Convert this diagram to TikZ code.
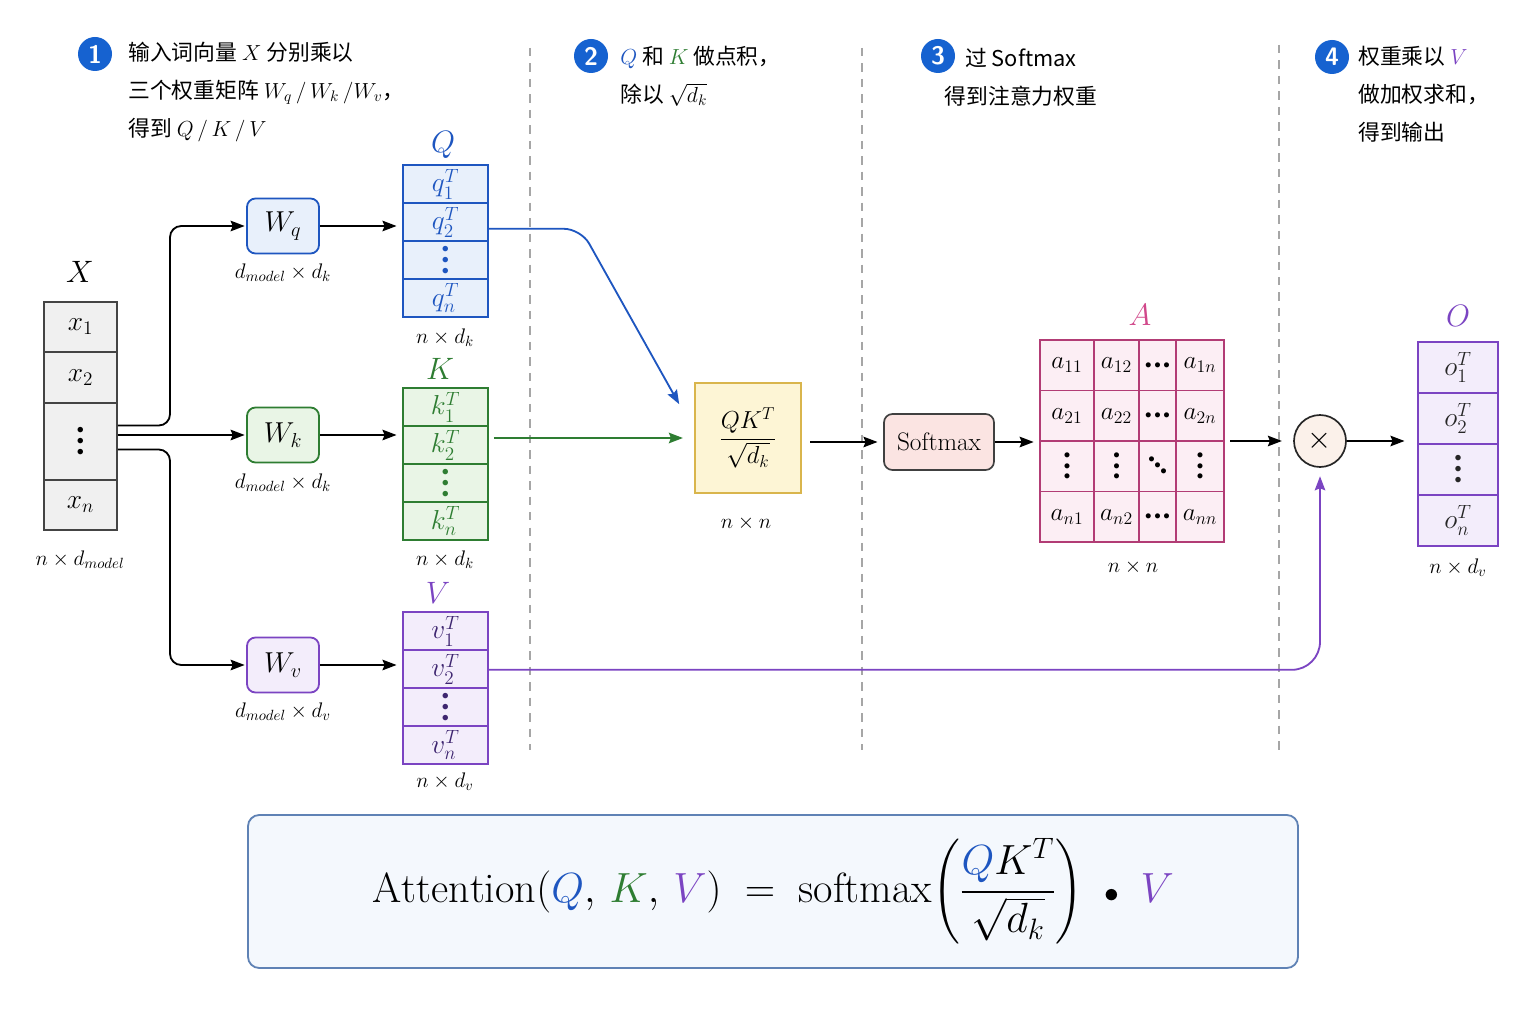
\RequirePackage{fix-cm}
\documentclass[tikz,border=0pt]{standalone}
\usepackage{amsmath}
\usepackage{fontspec}
\newfontfamily\cjk{Noto Sans CJK SC}
\usetikzlibrary{arrows.meta,calc}

\def\px{0.025cm}
\newcommand\dotglyph{\hbox{$\scriptscriptstyle\bullet$}}
\newcommand\colvdots{\vcenter{\baselineskip=0.4em\lineskiplimit=0pt\lineskip=0pt\dotglyph\dotglyph\dotglyph}}
\newcommand\rowdots{\mathinner{\dotglyph\kern0.1em\dotglyph\kern0.1em\dotglyph}}
\newcommand\diagdots{\mathinner{\raise0.55em\dotglyph\kern-0.02em\raise0.3em\dotglyph\kern-0.02em\raise0.05em\dotglyph}}

\definecolor{stepblue}{HTML}{1662D0}
\definecolor{qblue}{HTML}{1E56C0}
\definecolor{qfill}{HTML}{E8F0FB}
\definecolor{kgreen}{HTML}{2E7D32}
\definecolor{kfill}{HTML}{E9F5E6}
\definecolor{vpurple}{HTML}{7B44C2}
\definecolor{vfill}{HTML}{F3EDFB}
\definecolor{vtext}{HTML}{3E2670}
\definecolor{apink}{HTML}{D1478A}
\definecolor{afill}{HTML}{FCEEF4}
\definecolor{qkfill}{HTML}{FDF5D5}
\definecolor{qkline}{HTML}{D9B54C}
\definecolor{smfill}{HTML}{FBE4E2}
\definecolor{mulfill}{HTML}{FBF1EA}
\definecolor{xfill}{HTML}{F0F0F0}
\definecolor{xline}{HTML}{444444}
\definecolor{fmfill}{HTML}{F4F8FD}
\definecolor{fmline}{HTML}{5F82B5}

\tikzset{
  stepnum/.style={circle,fill=stepblue,text=white,minimum size=34*\px,inner sep=0pt,font=\sffamily\bfseries\fontsize{18}{18}\selectfont},
  steptext/.style={anchor=west,align=left,inner sep=0pt,font=\cjk\fontsize{15.5}{27}\selectfont},
  biglabel/.style={font=\fontsize{22}{22}\selectfont},
  dimlabel/.style={font=\fontsize{15}{15}\selectfont},
  xcell/.style={draw=xline,fill=xfill,line width=1.1pt,minimum width=73*\px,inner sep=0pt,font=\fontsize{19.5}{19.5}\selectfont},
  qcell/.style={draw=qblue,fill=qfill,text=qblue,line width=1.2pt,minimum width=85*\px,minimum height=38*\px,inner sep=0pt,font=\fontsize{19.5}{19.5}\selectfont},
  kcell/.style={qcell,draw=kgreen,fill=kfill,text=kgreen},
  vcell/.style={qcell,draw=vpurple,fill=vfill,text=vtext},
  ocell/.style={qcell,draw=vpurple,fill=vfill,text=black!85,minimum width=80*\px,minimum height=51*\px},
  acell/.style={draw=apink!85!black,fill=afill,line width=1pt,minimum height=50.5*\px,inner sep=0pt,font=\fontsize{18}{18}\selectfont},
  wbox/.style={rounded corners=6pt,line width=1.3pt,minimum width=72*\px,minimum height=55*\px,font=\fontsize{20.5}{20.5}\selectfont},
  divider/.style={draw=black!35,line width=1pt,dash pattern=on 6pt off 5pt},
  arr/.style={-{Stealth[length=10pt,width=7.5pt,inset=1.5pt]},line width=1.3pt}
}

\begin{document}
\begin{tikzpicture}[x=0.025cm,y=-0.025cm]
  \fill[white] (0,0) rectangle (1536,1024);
  \useasboundingbox (0,0) rectangle (1536,1024);

  % step captions
  \node[stepnum] (s1) at (95,54) {1};
  \node[steptext] (t1) at (128,92) {输入词向量 $X$ 分别乘以\\三个权重矩阵 $W_q\,/\,W_k\,/W_v$，\\得到 $Q\,/\,K\,/\,V$};
  \node[stepnum] (s2) at (591,56) {2};
  \node[steptext] (t2) at (620,76) {$\textcolor{qblue}{Q}$ 和 $\textcolor{kgreen}{K}$ 做点积，\\除以 $\sqrt{d_k}$};
  \node[stepnum] (s3) at (938,56) {3};
  \node[steptext,anchor=center,align=center] (t3) at (1021,77) {过 Softmax\\得到注意力权重};
  \node[stepnum] (s4) at (1332,57) {4};
  \node[steptext] (t4) at (1358,94) {权重乘以 $\textcolor{vpurple}{V}$\\做加权求和，\\得到输出};

  % dividers
  \draw[divider] (530,48) -- (530,750);
  \draw[divider] (862,48) -- (862,750);
  \draw[divider] (1279,45) -- (1279,750);

  % input X
  \node[biglabel] (xlab) at (80,272) {$X$};
  \node[xcell,minimum height=50*\px] (x1) at (80.5,327) {$x_1$};
  \node[xcell,minimum height=51*\px] (x2) at (80.5,377.5) {$x_2$};
  \node[xcell,minimum height=77*\px] (xd) at (80.5,441.5) {$\colvdots$};
  \node[xcell,minimum height=50*\px] (xn) at (80.5,505) {$x_n$};
  \node[dimlabel] (xdim) at (80,560) {$n\times d_{model}$};

  % weight matrices
  \node[wbox,draw=qblue,fill=qfill] (wq) at (283,226) {$W_q$};
  \node[dimlabel] (wqdim) at (283,273) {$d_{model}\times d_k$};
  \node[wbox,draw=kgreen,fill=kfill] (wk) at (283,435) {$W_k$};
  \node[dimlabel] (wkdim) at (283,483) {$d_{model}\times d_k$};
  \node[wbox,draw=vpurple,fill=vfill] (wv) at (283,665) {$W_v$};
  \node[dimlabel] (wvdim) at (283,712) {$d_{model}\times d_v$};

  % Q, K, V
  \node[biglabel,text=qblue] (qlab) at (443,145) {$Q$};
  \node[qcell] (q1) at (445.5,184) {$q_1^T$};
  \node[qcell] (q2) at (445.5,222) {$q_2^T$};
  \node[qcell] (qd) at (445.5,260) {$\colvdots$};
  \node[qcell] (qn) at (445.5,298) {$q_n^T$};
  \node[dimlabel] (qdim) at (445,338) {$n\times d_k$};

  \node[biglabel,text=kgreen] (klab) at (440,369) {$K$};
  \node[kcell] (k1) at (445.5,407) {$k_1^T$};
  \node[kcell] (k2) at (445.5,445) {$k_2^T$};
  \node[kcell] (kd) at (445.5,483) {$\colvdots$};
  \node[kcell] (kn) at (445.5,521) {$k_n^T$};
  \node[dimlabel] (kdim) at (445,560) {$n\times d_k$};

  \node[biglabel,text=vpurple] (vlab) at (438,593) {$V$};
  \node[vcell] (v1) at (445.5,631) {$v_1^T$};
  \node[vcell] (v2) at (445.5,669) {$v_2^T$};
  \node[vcell] (vd) at (445.5,707) {$\colvdots$};
  \node[vcell] (vn) at (445.5,745) {$v_n^T$};
  \node[dimlabel] (vdim) at (445,782) {$n\times d_v$};

  % scores and softmax
  \node[draw=qkline,fill=qkfill,line width=1.2pt,minimum width=106*\px,minimum height=110*\px,font=\fontsize{17.5}{17.5}\selectfont] (qk) at (748,438) {$\dfrac{QK^T}{\sqrt{d_k}}$};
  \node[dimlabel] (qkdim) at (746,523) {$n\times n$};
  \node[draw=black!75,fill=smfill,rounded corners=6pt,line width=1.2pt,minimum width=110*\px,minimum height=56*\px,font=\fontsize{18}{18}\selectfont] (sm) at (939,442) {Softmax};

  % attention weights A
  \node[biglabel,text=apink] (alab) at (1140,315) {$A$};
  \node[acell,minimum width=54*\px] (a11) at (1067,365.25) {$a_{11}$};
  \node[acell,minimum width=45*\px] (a12) at (1116.5,365.25) {$a_{12}$};
  \node[acell,minimum width=37*\px] (a13) at (1157.5,365.25) {$\rowdots$};
  \node[acell,minimum width=48*\px] (a14) at (1200,365.25) {$a_{1n}$};
  \node[acell,minimum width=54*\px] (a21) at (1067,415.75) {$a_{21}$};
  \node[acell,minimum width=45*\px] (a22) at (1116.5,415.75) {$a_{22}$};
  \node[acell,minimum width=37*\px] (a23) at (1157.5,415.75) {$\rowdots$};
  \node[acell,minimum width=48*\px] (a24) at (1200,415.75) {$a_{2n}$};
  \node[acell,minimum width=54*\px] (a31) at (1067,466.25) {$\colvdots$};
  \node[acell,minimum width=45*\px] (a32) at (1116.5,466.25) {$\colvdots$};
  \node[acell,minimum width=37*\px] (a33) at (1157.5,466.25) {$\diagdots$};
  \node[acell,minimum width=48*\px] (a34) at (1200,466.25) {$\colvdots$};
  \node[acell,minimum width=54*\px] (a41) at (1067,516.75) {$a_{n1}$};
  \node[acell,minimum width=45*\px] (a42) at (1116.5,516.75) {$a_{n2}$};
  \node[acell,minimum width=37*\px] (a43) at (1157.5,516.75) {$\rowdots$};
  \node[acell,minimum width=48*\px] (a44) at (1200,516.75) {$a_{nn}$};
  \node[dimlabel] (adim) at (1133,567) {$n\times n$};

  % weighted sum and output O
  \node[circle,draw=black!85,fill=mulfill,line width=1.2pt,minimum size=52*\px,inner sep=0pt,font=\fontsize{22}{22}\selectfont] (mul) at (1320,441) {$\times$};
  \node[biglabel,text=vpurple] (olab) at (1458,316) {$O$};
  \node[ocell] (o1) at (1458,367.5) {$o_1^T$};
  \node[ocell] (o2) at (1458,418.5) {$o_2^T$};
  \node[ocell] (od) at (1458,469.5) {$\colvdots$};
  \node[ocell] (on) at (1458,520.5) {$o_n^T$};
  \node[dimlabel] (odim) at (1458,568) {$n\times d_v$};

  % connectors
  \coordinate (fork) at (170,436);
  \draw[arr,rounded corners=8pt,shorten >=1pt] ([yshift=0.4cm]xd.east) -| (fork |- wq.west) -- (wq.west);
  \draw[arr,shorten >=1pt] (xd.east |- wk.west) -- (wk.west);
  \draw[arr,rounded corners=8pt,shorten >=1pt] ([yshift=-0.2cm]xd.east) -| (fork |- wv.west) -- (wv.west);
  \draw[arr,shorten >=4pt] (wq.east) -- (wq.east -| q2.west);
  \draw[arr,shorten >=4pt] (wk.east) -- (wk.east -| k2.west);
  \draw[arr,shorten >=4pt] (wv.east) -- (wv.east -| v2.west);
  \draw[arr,qblue,rounded corners=12pt] ([yshift=-0.17cm]q2.east) -- ++(92,0) -- ([shift={(-15,22)}]qk.north west);
  \draw[arr,kgreen,shorten <=3.5pt,shorten >=8pt] (qk.west -| k2.east) -- (qk.west);
  \draw[arr,shorten <=6pt,shorten >=4pt] (sm.west -| qk.east) -- (sm.west);
  \draw[arr,shorten >=4pt] (sm.east) -- (sm.east -| a21.west);
  \draw[arr,shorten <=4pt,shorten >=8pt] (mul.west -| a24.east) -- (mul.west);
  \draw[arr,shorten >=9pt] (mul.east) -- (mul.east -| o2.west);
  \draw[arr,vpurple,rounded corners=20pt,shorten >=6pt] ([yshift=-0.02cm]v2.east) -| (mul.south);

  % formula
  \node[draw=fmline,fill=fmfill,rounded corners=8pt,line width=1.3pt,minimum width=1050*\px,minimum height=153*\px,font=\fontsize{30}{30}\selectfont] (formula) at (773,891.5)
    {$\mathrm{Attention}(\textcolor{qblue}{Q},\,\textcolor{kgreen}{K},\,\textcolor{vpurple}{V})\;=\;\mathrm{softmax}\!\left(\dfrac{\textcolor{qblue}{Q}K^T}{\sqrt{d_k}}\right)\;\mathbin{\scriptstyle\bullet}\;\textcolor{vpurple}{V}$};
\end{tikzpicture}
\end{document}
